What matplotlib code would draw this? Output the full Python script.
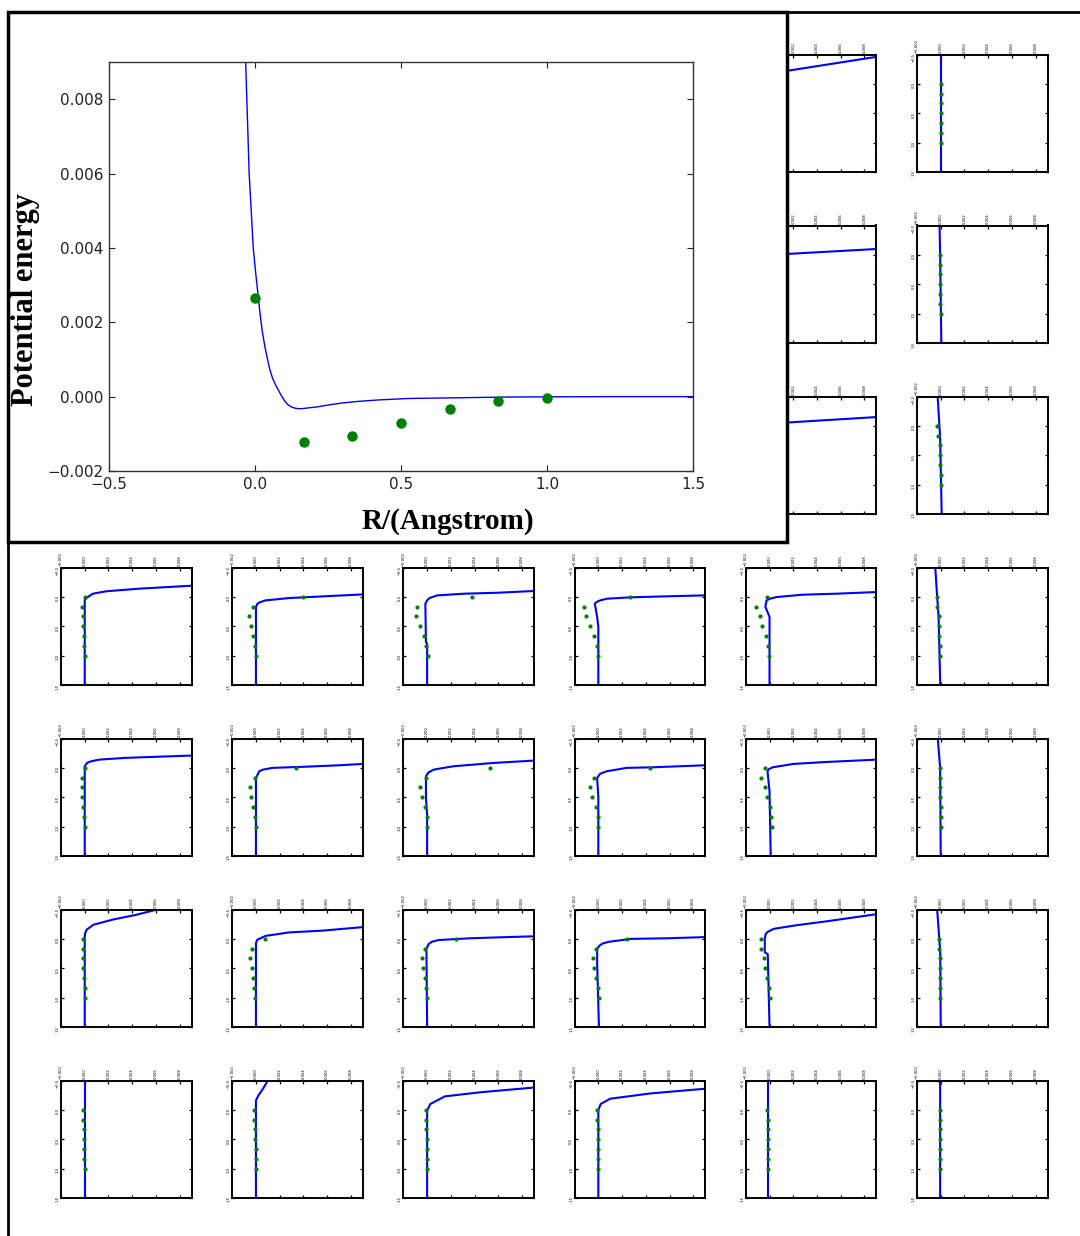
import numpy as np
import matplotlib
matplotlib.use("Agg")
import matplotlib.pyplot as plt
from matplotlib.patches import Rectangle
from matplotlib.lines import Line2D

# energies are written in units of 1e-3
E_SCALE = 1e-3

# --- big panel -------------------------------------------------------------
main_curve_R = [-0.032, -0.028, -0.020, -0.006, 0.004, 0.011, 0.017, 0.025, 0.034,
                0.043, 0.051, 0.060, 0.070, 0.079, 0.088, 0.097, 0.106, 0.115,
                0.125, 0.137, 0.150, 0.165, 0.185, 0.21, 0.24, 0.264, 0.30, 0.35,
                0.42, 0.524, 0.70, 0.87, 1.2, 1.5]
main_curve_E = [9.0, 8.0, 6.0, 4.0, 3.2, 2.7, 2.25, 1.75, 1.34,
                1.0, 0.72, 0.50, 0.32, 0.19, 0.06, -0.06, -0.16, -0.23,
                -0.28, -0.31, -0.325, -0.32, -0.30, -0.28, -0.24, -0.21, -0.17, -0.13,
                -0.09, -0.05, -0.03, -0.01, 0.0, 0.0]
dot_R = [0.0, 0.167, 0.333, 0.5, 0.667, 0.833, 1.0]
main_dot_E = [2.66, -1.21, -1.05, -0.70, -0.32, -0.11, -0.04]

# --- small panels (drawn rotated: energy across, R downwards) -------------
row_first_col = [4, 4, 4, 0, 0, 0, 0]

curve_R_row0 = [[-0.46, -0.22, -0.12, -0.05, 1.5], [-0.5, 1.5]]
curve_E_row0 = [[9.0, 1.42, 0.4, 0.0, 0.0], [0.0, 0.0]]
dots_E_row0 = [[0.0, -0.1, -0.1, -0.05, -0.05, 0.0, 0.0],
               [0.0, 0.0, 0.0, 0.0, 0.0, 0.0, 0.0]]

curve_R_row1 = [[-0.1, -0.015, 0.03, 0.08, 1.5], [-0.5, 0.0, 1.5]]
curve_E_row1 = [[9.0, 1.42, 0.3, 0.0, 0.0], [-0.1, -0.05, 0.05]]
dots_E_row1 = [[0.5, -0.3, -0.3, -0.2, -0.1, 0.0, 0.0],
               [-0.1, -0.1, -0.07, -0.04, -0.02, -0.02, 0.0]]

curve_R_row2 = [[-0.15, -0.056, -0.01, 0.05, 1.5], [-0.5, 0.2, 1.5]]
curve_E_row2 = [[9.0, 1.42, 0.3, 0.0, 0.0], [-0.26, -0.05, 0.08]]
dots_E_row2 = [[0.0, -0.3, -0.3, -0.2, -0.1, 0.0, 0.0],
               [-0.3, -0.2, -0.1, -0.07, -0.04, 0.0, 0.0]]

curve_R_row3 = [[-0.19, -0.14, -0.095, -0.055, -0.01, 0.02, 0.05, 1.5],
                [-0.042, -0.008, 0.02, 0.06, 0.09, 0.115, 0.17, 1.5],
                [-0.1, -0.07, -0.054, -0.025, 0.02, 0.06, 0.116, 0.766, 0.8, 1.5],
                [-0.025, -0.008, 0.008, 0.031, 0.06, 0.088, 0.116, 0.34, 0.51, 1.5],
                [-0.082, -0.054, -0.037, 0.003, 0.03, 0.06, 0.17, 0.34, 1.5],
                [-0.5, 0.0, 0.34, 1.5]]
curve_E_row3 = [[9.0, 4.6, 1.8, 0.7, 0.35, 0.16, 0.0, 0.0],
                [9.0, 5.6, 2.8, 0.8, 0.35, 0.13, 0.0, 0.0],
                [9.0, 5.9, 3.1, 0.85, 0.2, 0.0, -0.15, -0.1, 0.0, 0.0],
                [8.9, 5.5, 2.7, 0.74, 0.15, -0.15, -0.3, -0.1, 0.0, 0.0],
                [9.0, 5.6, 2.8, 0.6, 0.05, -0.25, -0.35, 0.0, 0.0],
                [-0.46, -0.3, -0.18, -0.04]]
dots_E_row3 = [[0.0, -0.2, -0.14, -0.11, -0.06, -0.03, 0.0],
               [3.96, -0.22, -0.59, -0.45, -0.22, -0.08, 0.0],
               [3.8, -0.83, -0.97, -0.6, -0.27, -0.07, 0.07],
               [2.65, -1.22, -1.02, -0.71, -0.35, -0.15, 0.0],
               [-0.18, -1.1, -0.77, -0.6, -0.32, -0.12, -0.07],
               [-0.32, -0.3, -0.18, -0.18, -0.15, -0.1, -0.1]]

curve_R_row4 = [[-0.21, -0.19, -0.17, -0.14, -0.11, -0.085, -0.03, 1.5],
                [-0.067, -0.044, -0.02, 0.0, 0.03, 0.058, 0.172, 1.5],
                [-0.124, -0.084, -0.027, 0.03, 0.08, 0.144, 0.51, 0.8, 1.5],
                [-0.044, -0.01, 0.0, 0.058, 0.1, 0.172, 0.5, 1.5],
                [-0.14, -0.1, -0.067, -0.01, 0.02, 0.058, 0.4, 1.5],
                [-0.5, 0.0, 1.5]]
curve_E_row4 = [[9.0, 6.2, 3.4, 1.2, 0.5, 0.2, 0.0, 0.0],
                [9.0, 7.0, 4.2, 1.4, 0.6, 0.28, 0.0, 0.0],
                [9.0, 5.6, 2.2, 0.55, 0.1, -0.1, -0.1, 0.0, 0.0],
                [9.0, 4.6, 2.4, 0.7, 0.15, -0.1, 0.0, 0.0],
                [9.0, 4.75, 2.0, 0.28, -0.05, -0.17, 0.0, 0.1],
                [-0.25, -0.05, 0.0]]
dots_E_row4 = [[0.0, -0.25, -0.2, -0.2, -0.15, -0.1, 0.0],
               [3.35, -0.1, -0.5, -0.4, -0.22, -0.1, 0.0],
               [5.3, -0.1, -0.6, -0.4, -0.17, 0.0, 0.0],
               [4.35, -0.4, -0.67, -0.5, -0.17, 0.0, 0.0],
               [-0.4, -0.73, -0.4, -0.22, 0.0, 0.1, 0.17],
               [-0.1, -0.1, -0.05, -0.05, 0.0, 0.0, 0.0]]

curve_R_row5 = [[-0.5, -0.41, -0.33, -0.24, -0.155, -0.09, -0.04, 1.5],
                [-0.2, -0.14, -0.11, -0.05, 0.017, 0.075, 1.5],
                [-0.044, -0.027, -0.01, 0.02, 0.05, 0.087, 0.17, 1.5],
                [-0.03, -0.01, 0.0, 0.05, 0.08, 0.115, 0.17, 0.4, 1.5],
                [-0.42, -0.3, -0.23, -0.17, -0.12, -0.08, 0.0, 0.23, 0.26, 1.5],
                [-0.5, 0.23, 1.5]]
curve_E_row5 = [[6.1, 4.35, 2.4, 0.72, 0.16, 0.03, 0.0, 0.0],
                [9.0, 5.6, 2.8, 0.8, 0.1, 0.0, 0.0],
                [9.0, 6.2, 3.6, 0.95, 0.4, 0.13, -0.06, 0.0],
                [9.0, 5.76, 2.75, 0.87, 0.35, 0.1, -0.1, -0.1, 0.05],
                [9.0, 4.85, 2.2, 0.34, -0.15, -0.33, -0.4, -0.4, -0.15, 0.0],
                [-0.3, -0.04, 0.0]]
dots_E_row5 = [[-0.18, -0.18, -0.12, -0.12, -0.07, 0.0, 0.0],
               [0.73, -0.36, -0.5, -0.36, -0.22, -0.17, -0.1],
               [2.46, -0.17, -0.47, -0.36, -0.21, -0.1, 0.0],
               [2.4, -0.18, -0.44, -0.33, -0.18, 0.0, 0.05],
               [-0.68, -0.68, -0.45, -0.34, -0.23, -0.08, 0.0],
               [-0.11, -0.11, -0.04, -0.04, -0.04, -0.04, -0.04]]

curve_R_row6 = [[-0.5, 1.5],
                [-0.5, -0.36, -0.244, -0.158, 1.5],
                [-0.38, -0.3, -0.23, -0.1, 0.01, 1.5],
                [-0.36, -0.28, -0.19, -0.1, 0.0, 1.5],
                [-0.5, 1.5],
                [-0.5, -0.45, 1.5]]
curve_E_row6 = [[0.0, 0.0],
                [1.0, 0.6, 0.2, 0.0, 0.0],
                [9.0, 4.5, 1.5, 0.27, 0.0, 0.0],
                [9.0, 4.4, 1.0, 0.2, 0.0, 0.0],
                [-0.1, -0.1],
                [-0.18, -0.05, -0.05]]
dots_E_row6 = [[-0.12, -0.12, -0.07, -0.07, -0.04, -0.04, 0.0],
               [-0.14, -0.14, -0.08, -0.08, -0.03, -0.03, 0.0],
               [-0.1, -0.1, -0.1, -0.05, -0.05, 0.0, 0.0],
               [-0.1, -0.1, -0.05, -0.05, 0.0, 0.0, 0.0],
               [-0.2, -0.15, -0.15, -0.1, -0.1, -0.1, -0.1],
               [-0.1, -0.1, -0.08, -0.08, -0.05, -0.05, -0.04]]

curve_R_rows = [curve_R_row0, curve_R_row1, curve_R_row2, curve_R_row3,
                curve_R_row4, curve_R_row5, curve_R_row6]
curve_E_rows = [curve_E_row0, curve_E_row1, curve_E_row2, curve_E_row3,
                curve_E_row4, curve_E_row5, curve_E_row6]
dots_E_rows = [dots_E_row0, dots_E_row1, dots_E_row2, dots_E_row3,
               dots_E_row4, dots_E_row5, dots_E_row6]

E_ticks = [-0.002, 0.0, 0.002, 0.004, 0.006, 0.008]
R_ticks = [-0.5, 0.0, 0.5, 1.0, 1.5]

W, H = 1080, 1236


def px_rect(x0, y0, x1, y1):
    return [x0 / W, 1 - y1 / H, (x1 - x0) / W, (y1 - y0) / H]


fig = plt.figure(figsize=(W / 100, H / 100), dpi=100)

# grid of small rotated panels
for r in range(7):
    for k, (cR, cE, dE) in enumerate(zip(curve_R_rows[r], curve_E_rows[r], dots_E_rows[r])):
        c = row_first_col[r] + k
        left = 61 + 171.2 * c
        top = 54.5 + 171 * r
        ax = fig.add_axes(px_rect(left, top, left + 130.5, top + 117.5))
        ax.plot(np.array(cE) * E_SCALE, cR, color='blue', lw=1.5,
                solid_joinstyle='round')
        ax.plot(np.array(dE) * E_SCALE, dot_R, 'o', color='green', ms=3.0, mec='none')
        ax.set_xlim(-0.002, 0.009)
        ax.set_ylim(1.5, -0.5)
        ax.set_xticks(E_ticks)
        ax.set_yticks(R_ticks)
        ax.tick_params(axis='both', direction='in', length=2, width=0.9,
                       labelsize=2.7, pad=1, labelcolor='black')
        ax.tick_params(axis='x', top=True, bottom=True, labeltop=True,
                       labelbottom=False, labelrotation=90)
        ax.tick_params(axis='y', left=True, right=True, labelrotation=90)
        for s in ax.spines.values():
            s.set_linewidth(1.4)

# white box holding the big panel
box = Rectangle((8 / W, 1 - 542 / H), (787 - 8) / W, (542 - 12) / H,
                transform=fig.transFigure, facecolor='white', edgecolor='black',
                lw=2.5, zorder=1)
fig.add_artist(box)

# outer frame (left and top only)
fig.add_artist(Line2D([8 / W, 8 / W], [1 - 12 / H, 0], transform=fig.transFigure,
                      color='black', lw=2, zorder=3))
fig.add_artist(Line2D([8 / W, 1], [1 - 12 / H, 1 - 12 / H], transform=fig.transFigure,
                      color='black', lw=2, zorder=3))

axm = fig.add_axes(px_rect(109, 62, 693, 471), zorder=2)
axm.plot(main_curve_R, np.array(main_curve_E) * E_SCALE, color='blue', lw=1.0)
axm.plot(dot_R, np.array(main_dot_E) * E_SCALE, 'o', color='green', ms=7.5, mec='none')
axm.set_xlim(-0.5, 1.5)
axm.set_ylim(-0.002, 0.009)
axm.set_xticks([-0.5, 0.0, 0.5, 1.0, 1.5])
axm.set_yticks(E_ticks)
axm.tick_params(axis='both', direction='in', length=4, labelsize=11, pad=4,
                top=True, right=True, colors='#222222')
for s in axm.spines.values():
    s.set_linewidth(1.0)
    s.set_color('#333333')

fig.text(26 / W, 1 - 300 / H, 'Potential energy', rotation=90, ha='center', va='center',
         fontsize=22, fontweight='bold', family='Liberation Serif')
fig.text(448 / W, 1 - 521 / H, 'R/(Angstrom)', ha='center', va='center',
         fontsize=21, fontweight='bold', family='Liberation Serif')

fig.savefig('out.png', dpi=100)
